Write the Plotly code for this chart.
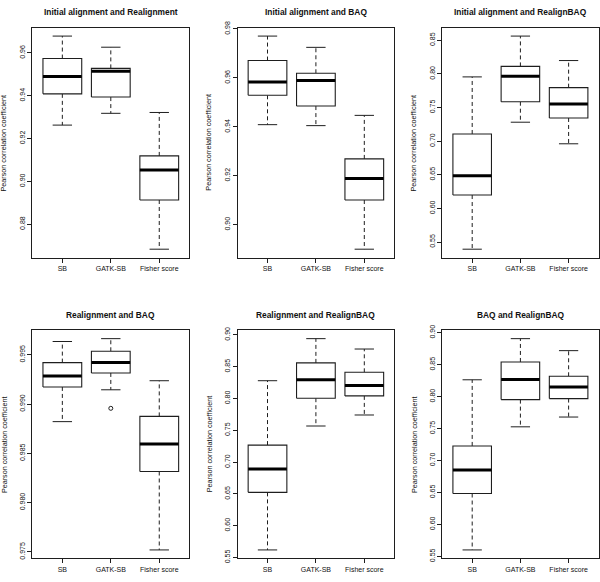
import plotly.graph_objects as go

# ---------------- data ----------------
categories = ["SB", "GATK-SB", "Fisher score"]
titles = [
    "Initial alignment and Realignment",
    "Initial alignment and BAQ",
    "Initial alignment and RealignBAQ",
    "Realignment and BAQ",
    "Realignment and RealignBAQ",
    "BAQ and RealignBAQ",
]
y_title = "Pearson correlation coefficient"

# box statistics per panel: [SB, GATK-SB, Fisher score]
p1_upper = [0.9679, 0.9627, 0.9322]
p1_q3 = [0.9574, 0.9528, 0.9119]
p1_median = [0.9490, 0.9515, 0.9053]
p1_q1 = [0.9409, 0.9394, 0.8913]
p1_lower = [0.9263, 0.9318, 0.8683]

p2_upper = [0.9771, 0.9725, 0.9447]
p2_q3 = [0.9671, 0.9619, 0.9269]
p2_median = [0.9583, 0.9589, 0.9189]
p2_q1 = [0.9529, 0.9485, 0.9101]
p2_lower = [0.9409, 0.9405, 0.8900]

p3_upper = [0.7956, 0.8563, 0.8199]
p3_q3 = [0.7107, 0.8112, 0.7796]
p3_median = [0.6485, 0.7966, 0.7553]
p3_q1 = [0.6199, 0.7587, 0.7345]
p3_lower = [0.5393, 0.7282, 0.6961]

p4_upper = [0.99635, 0.99664, 0.99237]
p4_q3 = [0.99421, 0.99536, 0.98875]
p4_median = [0.99286, 0.99421, 0.98595]
p4_q1 = [0.99174, 0.99316, 0.98316]
p4_lower = [0.98822, 0.99145, 0.97520]
p4_outliers_gatk = [0.98957]

p5_upper = [0.8280, 0.8941, 0.8778]
p5_q3 = [0.7268, 0.8560, 0.8412]
p5_median = [0.6891, 0.8295, 0.8203]
p5_q1 = [0.6525, 0.8005, 0.8041]
p5_lower = [0.5620, 0.7568, 0.7741]

p6_upper = [0.8264, 0.8908, 0.8720]
p6_q3 = [0.7229, 0.8543, 0.8319]
p6_median = [0.6854, 0.8269, 0.8152]
p6_q1 = [0.6484, 0.7954, 0.7970]
p6_lower = [0.5601, 0.7528, 0.7681]

# y tick labels per panel
p1_ticks = ["0.88", "0.90", "0.92", "0.94", "0.96"]
p2_ticks = ["0.90", "0.92", "0.94", "0.96", "0.98"]
p3_ticks = ["0.55", "0.60", "0.65", "0.70", "0.75", "0.80", "0.85"]
p4_ticks = ["0.975", "0.980", "0.985", "0.990", "0.995"]
p5_ticks = ["0.55", "0.60", "0.65", "0.70", "0.75", "0.80", "0.85", "0.90"]
p6_ticks = ["0.55", "0.60", "0.65", "0.70", "0.75", "0.80", "0.85", "0.90"]

panels = [
    (p1_lower, p1_q1, p1_median, p1_q3, p1_upper, [[], [], []], p1_ticks),
    (p2_lower, p2_q1, p2_median, p2_q3, p2_upper, [[], [], []], p2_ticks),
    (p3_lower, p3_q1, p3_median, p3_q3, p3_upper, [[], [], []], p3_ticks),
    (p4_lower, p4_q1, p4_median, p4_q3, p4_upper, [[], p4_outliers_gatk, []], p4_ticks),
    (p5_lower, p5_q1, p5_median, p5_q3, p5_upper, [[], [], []], p5_ticks),
    (p6_lower, p6_q1, p6_median, p6_q3, p6_upper, [[], [], []], p6_ticks),
]

# ---------------- layout geometry (pixels) ----------------
W, H = 600, 582
col_px = [(32.3, 189.3), (237.5, 394.3), (442.3, 598.5)]
row_px = [(21, 256), (330, 563)]

FONT = "Liberation Sans, Arial, Helvetica, sans-serif"
LINE = "#1e1e1e"
BOXW = 0.8

fig = go.Figure()
annotations = []
layout_axes = {}

for k, (lo, q1, med, q3, up, outl, ticks) in enumerate(panels):
    idx = k + 1
    xa = "x" if idx == 1 else f"x{idx}"
    ya = "y" if idx == 1 else f"y{idx}"
    r, c = divmod(k, 3)
    x0p, x1p = col_px[c]
    t_px, b_px = row_px[r]
    xdom = [x0p / W, x1p / W]
    ydom = [1 - b_px / H, 1 - t_px / H]

    pos = [1, 2, 3]
    bx, by, mx, my, wx, wy, cx, cy, ox, oy = [], [], [], [], [], [], [], [], [], []
    for i, p in enumerate(pos):
        h = BOXW / 2
        bx += [p - h, p + h, p + h, p - h, p - h, None]
        by += [q1[i], q1[i], q3[i], q3[i], q1[i], None]
        mx += [p - h, p + h, None]
        my += [med[i], med[i], None]
        wx += [p, p, None, p, p, None]
        wy += [q3[i], up[i], None, q1[i], lo[i], None]
        cx += [p - h / 2, p + h / 2, None, p - h / 2, p + h / 2, None]
        cy += [up[i], up[i], None, lo[i], lo[i], None]
        for v in outl[i]:
            ox.append(p)
            oy.append(v)

    common = dict(xaxis=xa, yaxis=ya, showlegend=False, hoverinfo="skip")
    fig.add_trace(go.Scatter(x=wx, y=wy, mode="lines",
                             line=dict(color=LINE, width=1, dash="4px,3px"), **common))
    fig.add_trace(go.Scatter(x=cx, y=cy, mode="lines",
                             line=dict(color=LINE, width=1), **common))
    fig.add_trace(go.Scatter(x=bx, y=by, mode="lines", fill="toself", fillcolor="white",
                             line=dict(color=LINE, width=1.1), **common))
    fig.add_trace(go.Scatter(x=mx, y=my, mode="lines",
                             line=dict(color="black", width=3), **common))
    if ox:
        fig.add_trace(go.Scatter(x=ox, y=oy, mode="markers",
                                 marker=dict(symbol="circle-open", size=4,
                                             color=LINE, line=dict(width=1)), **common))

    all_vals = lo + up + [v for o in outl for v in o]
    vmin, vmax = min(all_vals), max(all_vals)
    ext = 0.04 * (vmax - vmin)

    xkey = "xaxis" if idx == 1 else f"xaxis{idx}"
    ykey = "yaxis" if idx == 1 else f"yaxis{idx}"
    layout_axes[xkey] = dict(
        domain=xdom, anchor=ya, range=[0.38, 3.62],
        tickvals=pos, ticktext=categories, tickangle=0,
        showline=True, mirror=True, linecolor=LINE, linewidth=1,
        ticks="outside", ticklen=4, tickcolor=LINE, tickwidth=1,
        showgrid=False, zeroline=False, fixedrange=True,
        tickfont=dict(family=FONT, size=7, color="#111"),
    )
    layout_axes[ykey] = dict(
        domain=ydom, anchor=xa, range=[vmin - ext, vmax + ext],
        tickvals=[float(t) for t in ticks], ticktext=ticks, tickangle=-90,
        showline=True, mirror=True, linecolor=LINE, linewidth=1,
        ticks="outside", ticklen=4, tickcolor=LINE, tickwidth=1,
        showgrid=False, zeroline=False, fixedrange=True,
        tickfont=dict(family=FONT, size=7, color="#111"),
    )

    annotations.append(dict(
        text=f"<b>{titles[k]}</b>", xref="paper", yref="paper",
        x=(x0p + x1p) / 2 / W, y=1 - (t_px - 15.5) / H,
        xanchor="center", yanchor="middle", showarrow=False,
        font=dict(family=FONT, size=8.4, color="#111"),
    ))
    annotations.append(dict(
        text=y_title, xref="paper", yref="paper",
        x=(x0p - 28.5) / W, y=1 - (t_px + b_px) / 2 / H,
        xanchor="center", yanchor="middle", textangle=-90, showarrow=False,
        font=dict(family=FONT, size=7.2, color="#111"),
    ))

fig.update_layout(
    width=W, height=H,
    margin=dict(l=0, r=0, t=0, b=0),
    paper_bgcolor="white", plot_bgcolor="white",
    annotations=annotations,
    **layout_axes,
)

fig.write_html(
    "out.html",
    config={"displayModeBar": False},
    post_script="document.body.style.margin='0';document.body.style.overflow='hidden';",
)
